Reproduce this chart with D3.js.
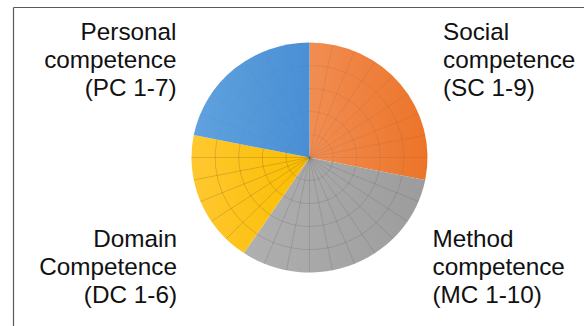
<!DOCTYPE html>
<html>
<head>
<meta charset="utf-8">
<script src="https://cdn.jsdelivr.net/npm/d3@7"></script>
<style>
  html, body { margin: 0; padding: 0; background: #fff; }
  svg { display: block; }
  text { font-family: "Liberation Sans", Arial, sans-serif; fill: #111; }
</style>
</head>
<body>
<svg id="chart" width="584" height="326"></svg>
<script>
// ---- data ----
const codes = ["SC", "MC", "DC", "PC"];
const values = [9, 10, 6, 7];
const labelLines = [
  ["Social", "competence", "(SC 1-9)"],
  ["Method", "competence", "(MC 1-10)"],
  ["Domain", "Competence", "(DC 1-6)"],
  ["Personal", "competence", "(PC 1-7)"]
];
const ringLevels = [1, 2, 3, 4, 5];

// ---- styling ----
const colorsLight = ["#f18d52", "#b0b0b0", "#ffc830", "#5fa2de"];
const colorsDark  = ["#ec7428", "#9c9c9c", "#fbbd00", "#4a8fd5"];
const gridOpacity = [0.1, 0.17, 0.2, 0.03];

const svg = d3.select("#chart");
const W = 584, H = 326;
const cx = 309.5, cy = 157.5, R = 118, yScale = 115 / 118;

// frame (top and left edges only)
svg.append("line").attr("x1", 13.5).attr("x2", W).attr("y1", 7.5).attr("y2", 7.5)
  .attr("stroke", "#5a5a5a").attr("stroke-width", 1.2);
svg.append("line").attr("x1", 13.5).attr("x2", 13.5).attr("y1", 7.5).attr("y2", H)
  .attr("stroke", "#5a5a5a").attr("stroke-width", 1.2);

const defs = svg.append("defs");
codes.forEach((c, i) => {
  const g = defs.append("linearGradient").attr("id", "grad" + i)
    .attr("x1", "0%").attr("x2", "100%").attr("y1", "0%").attr("y2", "0%");
  g.append("stop").attr("offset", "0%").attr("stop-color", colorsLight[i]);
  g.append("stop").attr("offset", "100%").attr("stop-color", colorsDark[i]);
});

const pie = d3.pie().sort(null).value(d => d).startAngle(0).endAngle(2 * Math.PI);
const arcs = pie(values);
const arc = d3.arc().innerRadius(0).outerRadius(R);
const rScale = d3.scaleLinear().domain([0, d3.max(ringLevels)]).range([0, R]);

const g = svg.append("g").attr("transform", `translate(${cx},${cy}) scale(1,${yScale})`);

g.selectAll("path.slice").data(arcs).enter().append("path")
  .attr("class", "slice")
  .attr("d", arc)
  .attr("fill", (d, i) => `url(#grad${i})`);

// grid inside each slice: one radial line per item, rings at rating levels
arcs.forEach((a, i) => {
  const n = values[i];
  const step = (a.endAngle - a.startAngle) / n;
  const gg = g.append("g").attr("stroke", "#333").attr("stroke-opacity", gridOpacity[i])
    .attr("fill", "none").attr("stroke-width", 0.9);
  for (let k = 1; k < n; k++) {
    const ang = a.startAngle + k * step - Math.PI / 2;
    gg.append("line").attr("x1", 0).attr("y1", 0)
      .attr("x2", R * Math.cos(ang)).attr("y2", R * Math.sin(ang));
  }
  ringLevels.slice(0, -1).forEach(lv => {
    const p = d3.path();
    const r = rScale(lv);
    p.arc(0, 0, r, a.startAngle - Math.PI / 2, a.endAngle - Math.PI / 2);
    gg.append("path").attr("d", p.toString());
  });
});

// labels
const labelPos = [
  { x: 443, y: 40, anchor: "start" },
  { x: 432.5, y: 247, anchor: "start" },
  { x: 177, y: 247, anchor: "end" },
  { x: 176.5, y: 40, anchor: "end" }
];
labelLines.forEach((lines, i) => {
  const t = svg.append("text").attr("x", labelPos[i].x).attr("y", labelPos[i].y)
    .attr("text-anchor", labelPos[i].anchor).attr("font-size", 24.3);
  lines.forEach((ln, j) => {
    t.append("tspan").attr("x", labelPos[i].x).attr("dy", j === 0 ? 0 : 28).text(ln);
  });
});
</script>
</body>
</html>
